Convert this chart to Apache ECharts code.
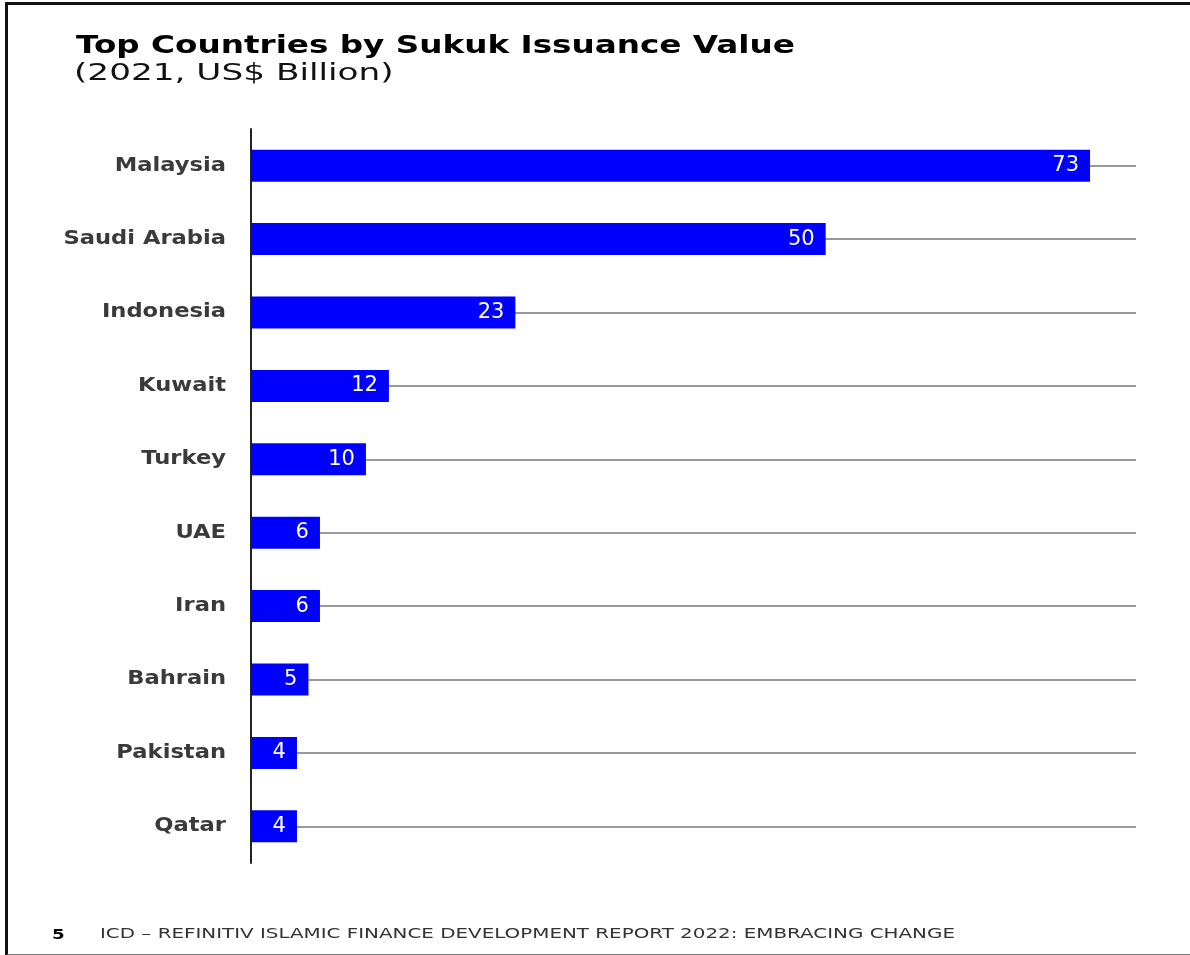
<!DOCTYPE html>
<html>
<head>
<meta charset="utf-8">
<script src="https://cdn.jsdelivr.net/npm/echarts@6/dist/echarts.min.js"></script>
<style>
  html, body { margin: 0; padding: 0; background: #fff; }
  #chart { position: absolute; left: 0; top: 0; width: 1190px; height: 955px; }
  #frame {
    position: absolute; left: 5px; top: 2px; width: 1190px; height: 949px;
    border-top: 3px solid #111; border-left: 3px solid #111; border-bottom: 2px solid #777;
    pointer-events: none;
  }
</style>
</head>
<body>
<div id="chart"></div>
<div id="frame"></div>
<script>
// Sukuk issuance by country, 2021 (US$ billion)
const countries = ['Malaysia', 'Saudi Arabia', 'Indonesia', 'Kuwait', 'Turkey', 'UAE', 'Iran', 'Bahrain', 'Pakistan', 'Qatar'];
const issuance = [73, 50, 23, 12, 10, 6, 6, 5, 4, 4];

const titleText = 'Top Countries by Sukuk Issuance Value';
const subtitleText = '(2021, US$ Billion)';
const pageNumber = '5';
const footerText = 'ICD \u2013 REFINITIV ISLAMIC FINANCE DEVELOPMENT REPORT 2022: EMBRACING CHANGE';

const chart = echarts.init(document.getElementById('chart'), null, { renderer: 'canvas' });

const font = '"DejaVu Sans", Verdana, sans-serif';

// Wide display lettering: regular glyphs stretched horizontally
function wideText(text, x, y, size, weight, color, sx, align) {
  return {
    type: 'text',
    x: x, y: y,
    scaleX: sx,
    silent: true,
    style: {
      text: text,
      font: weight + ' ' + size + 'px ' + font,
      fill: color,
      align: align || 'left',
      verticalAlign: 'top'
    }
  };
}

chart.setOption({
  backgroundColor: '#fff',
  animation: false,
  grid: { left: 251, right: 54, top: 129, bottom: 92 },
  xAxis: {
    type: 'value',
    min: 0,
    max: 77,
    show: false
  },
  yAxis: {
    type: 'category',
    data: countries,
    inverse: true,
    axisLine: { show: true, lineStyle: { color: '#222', width: 2 } },
    axisTick: { show: false },
    splitLine: { show: false },
    axisLabel: { show: false }
  },
  series: [
    {
      type: 'bar',
      data: issuance,
      barWidth: 32,
      z: 2,
      itemStyle: { color: '#0000ff' },
      label: {
        show: true,
        position: 'insideRight',
        distance: 11,
        fontFamily: font,
        fontSize: 21,
        fontWeight: 'normal',
        color: '#fff'
      },
      markLine: {
        silent: true,
        z: 1,
        symbol: 'none',
        label: { show: false },
        lineStyle: { color: '#777', width: 1.5, type: 'solid' },
        data: countries.map(c => ({ yAxis: c }))
      }
    }
  ]
});

// Category names, placed at each category's position on the y axis
const axisX = chart.convertToPixel({ xAxisIndex: 0 }, 0);
const labelEls = countries.map(c => {
  const y = chart.convertToPixel({ yAxisIndex: 0 }, c);
  const el = wideText(c, axisX - 25, y, 19, 'bold', '#3a3a3a', 1.19, 'right');
  el.style.verticalAlign = 'middle';
  return el;
});

chart.setOption({
  graphic: [
    wideText(titleText, 76, 35, 24, 'bold', '#000', 1.36),
    wideText(subtitleText, 74, 63, 23, 'normal', '#111', 1.49),
    wideText(pageNumber, 52, 928, 14, 'bold', '#000', 1.3),
    wideText(footerText, 100, 927, 14, 'normal', '#333', 1.42)
  ].concat(labelEls)
});
</script>
</body>
</html>
